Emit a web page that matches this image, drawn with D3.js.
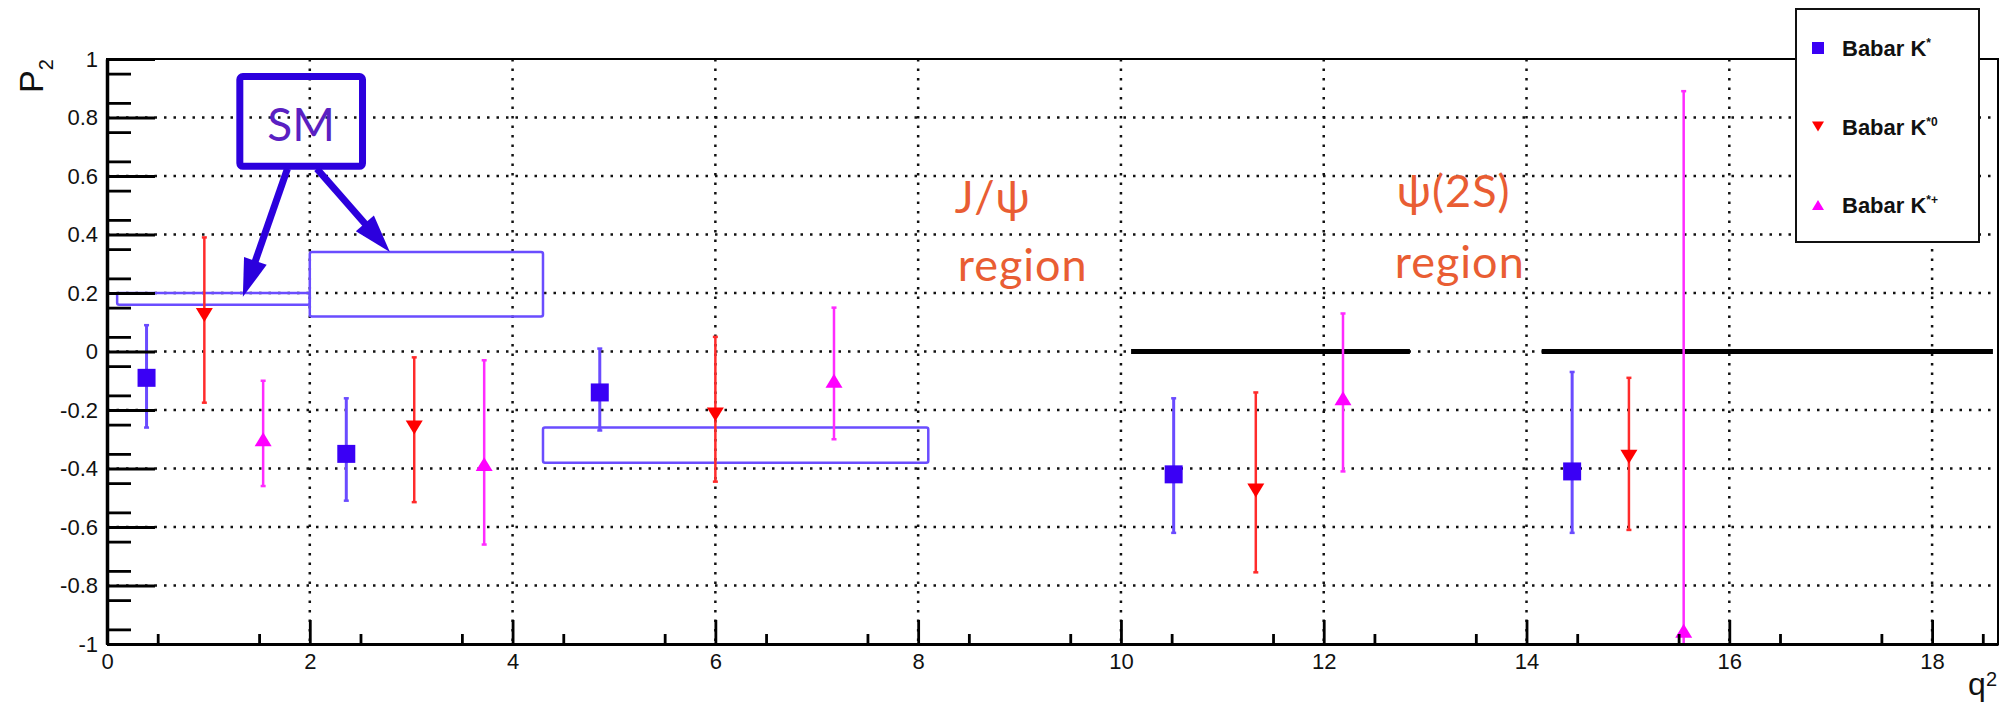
<!DOCTYPE html>
<html>
<head>
<meta charset="utf-8">
<script src="https://cdn.jsdelivr.net/npm/d3@7"></script>
<style>
  body { margin: 0; background: #fff; }
  .axis text { font-family: "Liberation Sans", Arial, sans-serif; font-size: 22px; fill: #111; }
  .axis path, .axis line { stroke: #000; }
</style>
</head>
<body>
<div id="chart"></div>
<script>
// Babar K* (blue squares): q2, P2, upper and lower end of the error bar
var q2Kstar   = [0.39, 2.36, 4.86, 10.52, 14.45];
var p2Kstar   = [-0.09, -0.35, -0.14, -0.42, -0.41];
var hiKstar   = [0.09, -0.16, 0.01, -0.16, -0.07];
var loKstar   = [-0.26, -0.51, -0.27, -0.62, -0.62];

// Babar K*0 (red down triangles)
var q2Kstar0  = [0.96, 3.03, 6.0, 11.33, 15.01];
var p2Kstar0  = [0.125, -0.26, -0.215, -0.475, -0.36];
var hiKstar0  = [0.39, -0.02, 0.05, -0.14, -0.09];
var loKstar0  = [-0.175, -0.515, -0.445, -0.755, -0.61];

// Babar K*+ (magenta up triangles)
var q2KstarP  = [1.54, 3.72, 7.17, 12.19, 15.55];
var p2KstarP  = [-0.30, -0.385, -0.10, -0.16, -0.955];
var hiKstarP  = [-0.10, -0.03, 0.15, 0.13, 0.89];
var loKstarP  = [-0.46, -0.66, -0.30, -0.41, -1.3];

// SM prediction boxes (q2 bin and P2 band)
var smQmin = [0.1, 2.0, 4.3];
var smQmax = [2.0, 4.3, 8.1];
var smLow  = [0.16, 0.12, -0.38];
var smHigh = [0.20, 0.34, -0.26];

// black lines at P2 = 0 above the charmonium regions
var zeroQmin = [10.1, 14.15];
var zeroQmax = [12.85, 18.6];

// tick labels
var xMajorTicks = [0, 2, 4, 6, 8, 10, 12, 14, 16, 18];
var yMajorTicks = [-1, -0.8, -0.6, -0.4, -0.2, 0, 0.2, 0.4, 0.6, 0.8, 1];

var series = [
    {name: "Babar K", sup: "*",  q: q2Kstar,  p: p2Kstar,  hi: hiKstar,  lo: loKstar,  shape: "square", fill: "#3a00f5", bar: "#6a4bff", barW: 3},
    {name: "Babar K", sup: "*0", q: q2Kstar0, p: p2Kstar0, hi: hiKstar0, lo: loKstar0, shape: "down",   fill: "#ff0000", bar: "#ff2b2b", barW: 2.5},
    {name: "Babar K", sup: "*+", q: q2KstarP, p: p2KstarP, hi: hiKstarP, lo: loKstarP, shape: "up",     fill: "#ff00ff", bar: "#ff2bff", barW: 2.5}
];

var margin = {top: 59, right: 17, bottom: 59, left: 107},
    width = 2015 - margin.left - margin.right,
    height = 703 - margin.top - margin.bottom;

var x = d3.scaleLinear().domain([0, 18.65]).range([0, width]);
var y = d3.scaleLinear().domain([-1, 1]).range([height, 0]);

var root = d3.select("#chart").append("svg")
    .attr("width", 2015)
    .attr("height", 703);

var defs = root.append("defs");
defs.append("clipPath").attr("id", "plotclip")
    .append("rect").attr("width", width).attr("height", height);
defs.append("marker")
    .attr("id", "arrowhead")
    .attr("markerUnits", "userSpaceOnUse")
    .attr("viewBox", "-40 -14 42 28")
    .attr("markerWidth", 42).attr("markerHeight", 28)
    .attr("refX", 0).attr("refY", 0)
    .attr("orient", "auto")
    .append("path")
    .attr("d", "M0,0 L-38,-12 L-38,12 Z")
    .attr("fill", "#2c00dd");

var svg = root.append("g")
    .attr("transform", "translate(" + margin.left + "," + margin.top + ")");

// dotted grid
svg.append("g").selectAll("line")
    .data(xMajorTicks.filter(function(d) { return d > 0; }))
    .enter().append("line")
    .attr("x1", function(d) { return x(d); }).attr("x2", function(d) { return x(d); })
    .attr("y1", 0).attr("y2", height)
    .attr("stroke", "#111").attr("stroke-width", 2.5).attr("stroke-dasharray", "2.5,7");
svg.append("g").selectAll("line")
    .data(yMajorTicks.filter(function(d) { return Math.abs(d) < 1; }))
    .enter().append("line")
    .attr("x1", 0).attr("x2", width)
    .attr("y1", function(d) { return y(d); }).attr("y2", function(d) { return y(d); })
    .attr("stroke", "#111").attr("stroke-width", 2.5).attr("stroke-dasharray", "2.5,7");

var plot = svg.append("g").attr("clip-path", "url(#plotclip)");

// SM boxes
plot.selectAll(".smbox")
    .data(smQmin)
    .enter().append("rect")
    .attr("class", "smbox")
    .attr("x", function(d, i) { return x(smQmin[i]); })
    .attr("width", function(d, i) { return x(smQmax[i]) - x(smQmin[i]); })
    .attr("y", function(d, i) { return y(smHigh[i]); })
    .attr("height", function(d, i) { return y(smLow[i]) - y(smHigh[i]); })
    .attr("rx", 2)
    .attr("fill", "none")
    .attr("stroke", "#6a4dff")
    .attr("stroke-width", 2.5);

// zero lines in the resonance regions
plot.selectAll(".zeroline")
    .data(zeroQmin)
    .enter().append("line")
    .attr("class", "zeroline")
    .attr("x1", function(d, i) { return x(zeroQmin[i]); })
    .attr("x2", function(d, i) { return x(zeroQmax[i]); })
    .attr("y1", y(0)).attr("y2", y(0))
    .attr("stroke", "#000").attr("stroke-width", 5);

function markerPath(shape, s) {
    if (shape === "square") return "M" + (-s) + "," + (-s) + "H" + s + "V" + s + "H" + (-s) + "Z";
    var h = s * 0.82;
    if (shape === "down") return "M" + (-s) + "," + (-h) + "L" + s + "," + (-h) + "L0," + h + "Z";
    return "M" + (-s) + "," + h + "L" + s + "," + h + "L0," + (-h) + "Z";
}

series.forEach(function(s) {
    var pts = s.q.map(function(q, i) { return {q: q, p: s.p[i], hi: s.hi[i], lo: s.lo[i]}; });
    var g = plot.append("g");

    g.selectAll(".bar")
        .data(pts)
        .enter().append("line")
        .attr("x1", function(d) { return x(d.q); }).attr("x2", function(d) { return x(d.q); })
        .attr("y1", function(d) { return y(d.hi); }).attr("y2", function(d) { return y(d.lo); })
        .attr("stroke", s.bar).attr("stroke-width", s.barW);

    ["hi", "lo"].forEach(function(k) {
        g.selectAll(".cap" + k)
            .data(pts)
            .enter().append("line")
            .attr("x1", function(d) { return x(d.q) - 2.5; }).attr("x2", function(d) { return x(d.q) + 2.5; })
            .attr("y1", function(d) { return y(d[k]); }).attr("y2", function(d) { return y(d[k]); })
            .attr("stroke", s.bar).attr("stroke-width", 2.5);
    });

    g.selectAll(".dot")
        .data(pts)
        .enter().append("path")
        .attr("transform", function(d) { return "translate(" + x(d.q) + "," + y(d.p) + ")"; })
        .attr("d", markerPath(s.shape, s.shape === "square" ? 9 : 8.5))
        .attr("fill", s.fill);
});

// frame
svg.append("rect")
    .attr("width", width).attr("height", height)
    .attr("fill", "none").attr("stroke", "#000").attr("stroke-width", 2);

// axes
var fmtY = function(d) { return Math.abs(d) < 1e-9 ? "0" : String(+d.toFixed(1)); };

var xAxis = svg.append("g").attr("class", "axis")
    .attr("transform", "translate(0," + height + ")")
    .call(d3.axisBottom(x).tickValues(xMajorTicks).tickSize(-24).tickSizeOuter(0).tickPadding(9).tickFormat(d3.format("d")));
svg.append("g").attr("class", "axis")
    .attr("transform", "translate(0," + height + ")")
    .call(d3.axisBottom(x).tickValues(d3.range(1, 38, 2).map(function(d) { return d / 2; })).tickSize(-10).tickSizeOuter(0).tickFormat(""))
    .select(".domain").remove();
xAxis.select(".domain").attr("stroke-width", 3);

var yAxis = svg.append("g").attr("class", "axis")
    .call(d3.axisLeft(y).tickValues(yMajorTicks).tickSize(-48).tickSizeOuter(0).tickPadding(9).tickFormat(fmtY));
svg.append("g").attr("class", "axis")
    .call(d3.axisLeft(y).tickValues(d3.range(-19, 20, 2).map(function(d) { return d / 20; })).tickSize(-24).tickSizeOuter(0).tickFormat(""))
    .select(".domain").remove();
yAxis.select(".domain").attr("stroke-width", 3.5);
svg.selectAll(".axis .tick line").attr("stroke-width", 2.8);

// axis titles
var yTitle = root.append("text")
    .attr("transform", "translate(43,93) rotate(-90)")
    .style("font-family", "Liberation Sans, Arial, sans-serif")
    .style("font-size", "34px")
    .attr("fill", "#111");
yTitle.append("tspan").text("P");
yTitle.append("tspan").attr("dy", 10).style("font-size", "20px").text("2");

var xTitle = root.append("text")
    .attr("x", 1997).attr("y", 695)
    .attr("text-anchor", "end")
    .style("font-family", "Liberation Sans, Arial, sans-serif")
    .style("font-size", "32px")
    .attr("fill", "#111");
xTitle.append("tspan").text("q");
xTitle.append("tspan").attr("dy", -9).style("font-size", "20px").text("2");

// SM callout with arrows
var callout = svg.append("g");
callout.append("rect")
    .attr("x", x(1.31)).attr("y", y(0.94))
    .attr("width", x(2.52) - x(1.31)).attr("height", y(0.633) - y(0.94))
    .attr("rx", 3)
    .attr("fill", "none").attr("stroke", "#2c00dd").attr("stroke-width", 7);
callout.append("text")
    .attr("x", x(1.915)).attr("y", y(0.72))
    .attr("text-anchor", "middle")
    .style("font-family", "Lato, sans-serif")
    .style("font-size", "46px")
    .attr("fill", "#5a1fc2")
    .text("SM");

var arrows = [[1.78, 0.625, 1.34, 0.187], [2.07, 0.625, 2.79, 0.34]];
arrows.forEach(function(a) {
    var x1 = x(a[0]), y1 = y(a[1]), x2 = x(a[2]), y2 = y(a[3]);
    var len = Math.sqrt((x2 - x1) * (x2 - x1) + (y2 - y1) * (y2 - y1));
    var ux = (x2 - x1) / len, uy = (y2 - y1) / len;
    callout.append("line")
        .attr("x1", x1).attr("y1", y1)
        .attr("x2", x2 - ux * 24).attr("y2", y2 - uy * 24)
        .attr("stroke", "#2c00dd").attr("stroke-width", 7);
    callout.append("line")
        .attr("x1", x2 - ux * 30).attr("y1", y2 - uy * 30)
        .attr("x2", x2).attr("y2", y2)
        .attr("stroke", "none")
        .attr("marker-end", "url(#arrowhead)");
});

// resonance region labels
var regionText = [
    {t: "J/\u03c8", q: 8.36, p: 0.475},
    {t: "region",   q: 8.39, p: 0.24},
    {t: "\u03c8(2S)", q: 12.72, p: 0.495},
    {t: "region",   q: 12.70, p: 0.252}
];
svg.selectAll(".region")
    .data(regionText)
    .enter().append("text")
    .attr("class", "region")
    .attr("x", function(d) { return x(d.q); })
    .attr("y", function(d) { return y(d.p); })
    .style("font-family", "Lato, sans-serif")
    .style("font-size", "45px")
    .style("letter-spacing", "1px")
    .attr("fill", "#e95d33")
    .text(function(d) { return d.t; });

// legend
var legend = root.append("g").attr("transform", "translate(1796,9)");
legend.append("rect")
    .attr("width", 183).attr("height", 233)
    .attr("fill", "#fff").attr("stroke", "#111").attr("stroke-width", 2);
series.forEach(function(s, i) {
    var row = legend.append("g").attr("transform", "translate(22," + (39 + i * 78.5) + ")");
    row.append("path").attr("d", markerPath(s.shape, 6)).attr("fill", s.fill);
    var t = row.append("text")
        .attr("x", 24).attr("y", 8)
        .style("font-family", "Liberation Sans, Arial, sans-serif")
        .style("font-size", "22px")
        .style("font-weight", "bold")
        .attr("fill", "#111");
    t.append("tspan").text(s.name);
    t.append("tspan").attr("dy", -9).style("font-size", "12px").text(s.sup);
});
</script>
</body>
</html>
